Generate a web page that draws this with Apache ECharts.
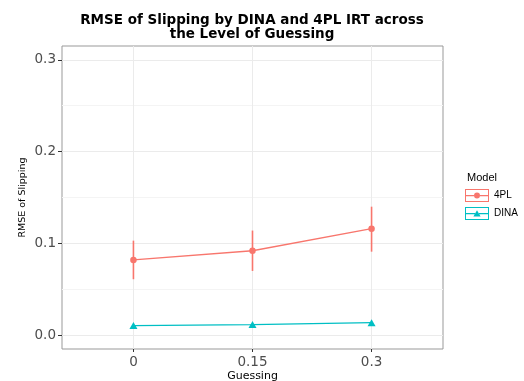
<!DOCTYPE html>
<html>
<head>
<meta charset="utf-8">
<script src="https://cdn.jsdelivr.net/npm/echarts@6/dist/echarts.min.js"></script>
<style>
  html, body { margin: 0; padding: 0; background: #fff; }
  #chart { width: 524px; height: 381px; }
</style>
</head>
<body>
<div id="chart"></div>
<script>
// guessing levels on the x axis
var guessing = [0, 0.15, 0.3];
var xTicks = [0, 0.15, 0.3];
var yTicks = [0, 0.1, 0.2, 0.3];
var yMinor = [0.05, 0.15, 0.25];

// RMSE of slipping, 4PL IRT with error bar ends
var rmse4pl = [0.082, 0.092, 0.116];
var lower4pl = [0.061, 0.070, 0.091];
var upper4pl = [0.103, 0.114, 0.140];

// RMSE of slipping, DINA
var rmseDina = [0.0105, 0.0116, 0.0137];

var red = '#F8766D';
var teal = '#00BFC4';
var font = 'DejaVu Sans';

var icon4pl = 'path://M0 0H24V13H0Z M1 1V12H23V1Z M1 6H9V7.2H1Z M15 6H23V7.2H15Z M9 6.6A3 3 0 1 0 15 6.6A3 3 0 1 0 9 6.6Z';
var iconDina = 'path://M0 0H24V13H0Z M1 1V12H23V1Z M1 6H10V7.2H1Z M14 6H23V7.2H14Z M12 3.2L15.6 9.6H8.4Z';

function pairs(xs, ys) {
  return xs.map(function (x, i) { return [x, ys[i]]; });
}

var myChart = echarts.init(document.getElementById('chart'));
myChart.setOption({
  animation: false,
  title: [
    {
      text: 'RMSE of Slipping by DINA and 4PL IRT across\nthe Level of Guessing',
      left: 252, top: 13, padding: 0, textAlign: 'center',
      textStyle: { fontFamily: font, fontSize: 13.5, fontWeight: 'bold', color: '#000', lineHeight: 14 }
    },
    {
      text: 'Model', left: 467, top: 172, padding: 0,
      textStyle: { fontFamily: 'Liberation Sans', fontSize: 11, fontWeight: 'normal', color: '#000' }
    }
  ],
  legend: {
    orient: 'vertical', left: 465, top: 189, padding: 0,
    itemWidth: 24, itemHeight: 13, itemGap: 5,
    textStyle: { fontFamily: 'Liberation Sans', fontSize: 10, color: '#000' },
    data: [
      { name: '4PL', icon: icon4pl, itemStyle: { color: red } },
      { name: 'DINA', icon: iconDina, itemStyle: { color: teal } }
    ]
  },
  grid: {
    left: 62, right: 81, top: 46, bottom: 32,
    outerBoundsMode: 'none',
    show: true, borderColor: '#999', borderWidth: 1, backgroundColor: '#fff'
  },
  xAxis: {
    type: 'value', min: -0.09, max: 0.39,
    name: 'Guessing', nameLocation: 'middle', nameGap: 21.5, nameMoveOverlap: false,
    nameTextStyle: { fontFamily: font, fontSize: 11, color: '#000' },
    axisLine: { show: false, onZero: false },
    axisTick: { show: true, customValues: xTicks, length: 3, lineStyle: { color: '#333' } },
    axisLabel: { customValues: xTicks, fontFamily: font, fontSize: 13.5, color: '#4d4d4d', margin: 6,
      formatter: function (v) { return String(v); } },
    splitLine: { show: true, lineStyle: { color: '#ebebeb', width: 1 } }
  },
  yAxis: [
    {
      type: 'value', min: -0.015, max: 0.315,
      name: 'RMSE of Slipping', nameLocation: 'middle', nameRotate: 90, nameGap: 34.5, nameMoveOverlap: false,
      nameTextStyle: { fontFamily: font, fontSize: 9.5, color: '#000' },
      axisLine: { show: false, onZero: false },
      axisTick: { show: true, customValues: yTicks, length: 4, lineStyle: { color: '#333' } },
      axisLabel: { customValues: yTicks, fontFamily: font, fontSize: 13.5, color: '#4d4d4d', margin: 6,
        formatter: function (v) { return v.toFixed(1); } },
      splitLine: { show: true, lineStyle: { color: '#ebebeb', width: 1 } }
    },
    {
      type: 'value', min: -0.015, max: 0.315, position: 'left',
      axisLine: { show: false, onZero: false }, axisTick: { show: false, customValues: yMinor },
      axisLabel: { show: false, customValues: yMinor },
      splitLine: { show: true, lineStyle: { color: '#f4f4f4', width: 1 } }
    }
  ],
  series: [
    {
      name: '4PL', type: 'custom', z: 3,
      data: guessing.map(function (g, i) { return [g, lower4pl[i], upper4pl[i]]; }),
      renderItem: function (params, api) {
        var a = api.coord([api.value(0), api.value(1)]);
        var b = api.coord([api.value(0), api.value(2)]);
        return { type: 'line', shape: { x1: a[0], y1: a[1], x2: b[0], y2: b[1] },
          style: { stroke: red, lineWidth: 1.6 } };
      }
    },
    {
      name: '4PL', type: 'line', z: 4, data: pairs(guessing, rmse4pl),
      symbol: 'circle', symbolSize: 6.5,
      itemStyle: { color: red }, lineStyle: { color: red, width: 1.3 }
    },
    {
      name: 'DINA', type: 'line', z: 4, data: pairs(guessing, rmseDina),
      symbol: 'triangle', symbolSize: [8, 7],
      itemStyle: { color: teal }, lineStyle: { color: teal, width: 1.3 }
    }
  ]
});
</script>
</body>
</html>
